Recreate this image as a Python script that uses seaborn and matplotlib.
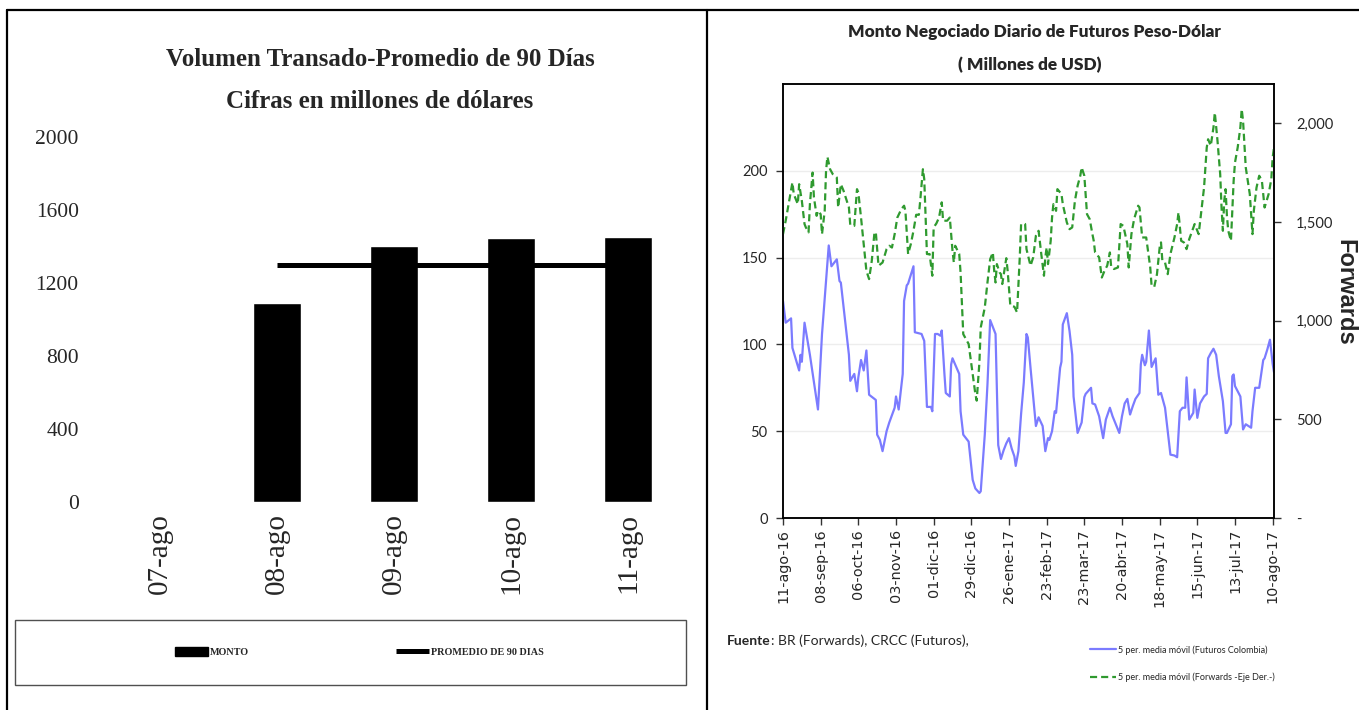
import numpy as np
import pandas as pd
import matplotlib
matplotlib.use("Agg")
import matplotlib.pyplot as plt
from matplotlib.lines import Line2D
from matplotlib.patches import Rectangle, Patch
from matplotlib import font_manager
import seaborn as sns

# ---------------- Left panel data ----------------
left_days = ["07-ago", "08-ago", "09-ago", "10-ago", "11-ago"]
monto = [0, 1090, 1403, 1447, 1452]
promedio_90 = [np.nan, 1298, 1298, 1298, 1298]
left_yticks = [0, 400, 800, 1200, 1600, 2000]

# ---------------- Right panel data ----------------
fut_dates = [
    "2016-08-11", "2016-08-13", "2016-08-17", "2016-08-18", "2016-08-23", "2016-08-24", "2016-08-25",
    "2016-08-27", "2016-08-31", "2016-09-06", "2016-09-09", "2016-09-12", "2016-09-14", "2016-09-16",
    "2016-09-20", "2016-09-22", "2016-09-23", "2016-09-29", "2016-09-30", "2016-10-03", "2016-10-05",
    "2016-10-06", "2016-10-08", "2016-10-10", "2016-10-12", "2016-10-14", "2016-10-19", "2016-10-20",
    "2016-10-22", "2016-10-24", "2016-10-27", "2016-10-29", "2016-11-02", "2016-11-03", "2016-11-05",
    "2016-11-08", "2016-11-09", "2016-11-11", "2016-11-12", "2016-11-16", "2016-11-17", "2016-11-22",
    "2016-11-24", "2016-11-26", "2016-11-29", "2016-11-30", "2016-12-02", "2016-12-04", "2016-12-06",
    "2016-12-07", "2016-12-09", "2016-12-10", "2016-12-13", "2016-12-14", "2016-12-15", "2016-12-20",
    "2016-12-21", "2016-12-23", "2016-12-27", "2016-12-30", "2017-01-01", "2017-01-04", "2017-01-05",
    "2017-01-06", "2017-01-08", "2017-01-10", "2017-01-12", "2017-01-14", "2017-01-16", "2017-01-18",
    "2017-01-20", "2017-01-22", "2017-01-24", "2017-01-26", "2017-01-28", "2017-01-30", "2017-01-31",
    "2017-02-02", "2017-02-04", "2017-02-06", "2017-02-08", "2017-02-09", "2017-02-11", "2017-02-13",
    "2017-02-15", "2017-02-17", "2017-02-20", "2017-02-22", "2017-02-24", "2017-02-25", "2017-02-27",
    "2017-03-01", "2017-03-02", "2017-03-05", "2017-03-06", "2017-03-07", "2017-03-10", "2017-03-12",
    "2017-03-14", "2017-03-15", "2017-03-18", "2017-03-21", "2017-03-23", "2017-03-24", "2017-03-28",
    "2017-03-29", "2017-03-31", "2017-04-03", "2017-04-06", "2017-04-08", "2017-04-11", "2017-04-13",
    "2017-04-18", "2017-04-20", "2017-04-22", "2017-04-24", "2017-04-26", "2017-04-28", "2017-04-30",
    "2017-05-03", "2017-05-04", "2017-05-05", "2017-05-07", "2017-05-08", "2017-05-10", "2017-05-12",
    "2017-05-15", "2017-05-17", "2017-05-19", "2017-05-22", "2017-05-24", "2017-05-26", "2017-05-29",
    "2017-05-31", "2017-06-02", "2017-06-04", "2017-06-06", "2017-06-07", "2017-06-09", "2017-06-12",
    "2017-06-13", "2017-06-15", "2017-06-17", "2017-06-20", "2017-06-22", "2017-06-23", "2017-06-25",
    "2017-06-27", "2017-06-29", "2017-07-01", "2017-07-04", "2017-07-06", "2017-07-07", "2017-07-10",
    "2017-07-11", "2017-07-12", "2017-07-13", "2017-07-17", "2017-07-19", "2017-07-21", "2017-07-23",
    "2017-07-25", "2017-07-26", "2017-07-28", "2017-07-31", "2017-08-03", "2017-08-04", "2017-08-06",
    "2017-08-08", "2017-08-10", "2017-08-11",
]
fut_vals = [
    125, 112.5, 115, 98, 85, 94, 90,
    112.5, 94, 62.5, 106, 136.5, 157, 145,
    149, 136.5, 135.6, 94, 79, 83, 73,
    81, 91, 85, 96.5, 71, 68, 48,
    45, 38.5, 50, 55, 63.5, 70, 62.5,
    83, 125, 134, 135, 145, 107, 106,
    102, 64, 64, 61.5, 106, 106, 105,
    108, 83, 72, 70, 88.5, 92, 83,
    61.5, 48, 44, 22, 17, 14.4, 15.4,
    26, 48, 77, 114, 110, 106, 42,
    34, 39, 43, 46, 40, 35.5, 30,
    38.5, 60, 78, 106, 104, 86.5, 70,
    53, 58, 53, 38.5, 46, 45, 50,
    61.5, 60.6, 86.5, 90, 111.5, 118, 107.7,
    94, 70, 49, 55, 69.6, 71.5, 75,
    66, 65.4, 58.6, 46, 56.7, 63.5, 58.6,
    49, 58.6, 66, 68.6, 59.6, 64.4, 68.6,
    72, 88.5, 94, 88, 90, 108, 87,
    92, 71, 72, 63.5, 50, 36.5, 36,
    35, 61.5, 63.5, 63.5, 81, 56.7, 60.6,
    74, 57.7, 66, 70, 71.5, 92, 95,
    97.5, 94, 81.7, 67.3, 49, 49, 54,
    81.7, 82.7, 76, 70, 51, 54, 53,
    52, 61.5, 75, 75, 91, 92, 97,
    102.7, 88.8, 84,
]

fwd_dates = [
    "2016-08-11", "2016-08-13", "2016-08-16", "2016-08-18", "2016-08-19", "2016-08-21", "2016-08-22",
    "2016-08-23", "2016-08-25", "2016-08-27", "2016-08-28", "2016-08-30", "2016-08-31", "2016-09-02",
    "2016-09-03", "2016-09-05", "2016-09-06", "2016-09-08", "2016-09-09", "2016-09-11", "2016-09-12",
    "2016-09-13", "2016-09-15", "2016-09-17", "2016-09-20", "2016-09-21", "2016-09-23", "2016-09-25",
    "2016-09-27", "2016-09-29", "2016-09-30", "2016-10-03", "2016-10-05", "2016-10-06", "2016-10-08",
    "2016-10-10", "2016-10-12", "2016-10-14", "2016-10-16", "2016-10-18", "2016-10-19", "2016-10-21",
    "2016-10-24", "2016-10-27", "2016-10-29", "2016-10-31", "2016-11-02", "2016-11-04", "2016-11-07",
    "2016-11-09", "2016-11-10", "2016-11-12", "2016-11-14", "2016-11-16", "2016-11-18", "2016-11-20",
    "2016-11-21", "2016-11-23", "2016-11-24", "2016-11-26", "2016-11-28", "2016-11-30", "2016-12-01",
    "2016-12-03", "2016-12-05", "2016-12-07", "2016-12-08", "2016-12-11", "2016-12-13", "2016-12-15",
    "2016-12-16", "2016-12-17", "2016-12-20", "2016-12-21", "2016-12-23", "2016-12-27", "2016-12-30",
    "2017-01-01", "2017-01-02", "2017-01-04", "2017-01-05", "2017-01-08", "2017-01-10", "2017-01-12",
    "2017-01-14", "2017-01-15", "2017-01-16", "2017-01-17", "2017-01-19", "2017-01-20", "2017-01-21",
    "2017-01-24", "2017-01-25", "2017-01-27", "2017-01-30", "2017-02-01", "2017-02-03", "2017-02-04",
    "2017-02-06", "2017-02-07", "2017-02-08", "2017-02-11", "2017-02-13", "2017-02-15", "2017-02-17",
    "2017-02-19", "2017-02-21", "2017-02-22", "2017-02-23", "2017-02-24", "2017-02-26", "2017-02-27",
    "2017-02-28", "2017-03-02", "2017-03-03", "2017-03-06", "2017-03-07", "2017-03-10", "2017-03-12",
    "2017-03-14", "2017-03-16", "2017-03-18", "2017-03-20", "2017-03-21", "2017-03-23", "2017-03-25",
    "2017-03-27", "2017-03-29", "2017-03-30", "2017-03-31", "2017-04-03", "2017-04-05", "2017-04-07",
    "2017-04-09", "2017-04-11", "2017-04-12", "2017-04-14", "2017-04-17", "2017-04-19", "2017-04-21",
    "2017-04-24", "2017-04-25", "2017-04-27", "2017-04-29", "2017-05-02", "2017-05-03", "2017-05-05",
    "2017-05-08", "2017-05-11", "2017-05-12", "2017-05-14", "2017-05-16", "2017-05-18", "2017-05-19",
    "2017-05-20", "2017-05-22", "2017-05-24", "2017-05-26", "2017-05-29", "2017-05-31", "2017-06-01",
    "2017-06-03", "2017-06-05", "2017-06-07", "2017-06-09", "2017-06-13", "2017-06-16", "2017-06-18",
    "2017-06-20", "2017-06-22", "2017-06-23", "2017-06-25", "2017-06-27", "2017-06-28", "2017-06-30",
    "2017-07-02", "2017-07-03", "2017-07-04", "2017-07-05", "2017-07-06", "2017-07-07", "2017-07-08",
    "2017-07-10", "2017-07-12", "2017-07-13", "2017-07-15", "2017-07-17", "2017-07-18", "2017-07-19",
    "2017-07-21", "2017-07-24", "2017-07-26", "2017-07-27", "2017-07-29", "2017-07-31", "2017-08-02",
    "2017-08-04", "2017-08-07", "2017-08-09", "2017-08-10", "2017-08-11",
]
fwd_vals = [
    1439, 1507, 1625, 1701, 1642, 1608, 1591,
    1692, 1608, 1490, 1473, 1448, 1591, 1751,
    1625, 1532, 1557, 1540, 1439, 1557, 1760,
    1831, 1768, 1743, 1726, 1574, 1692, 1659,
    1616, 1574, 1486, 1481, 1667, 1650, 1523,
    1388, 1253, 1211, 1304, 1448, 1448, 1279,
    1295, 1363, 1380, 1371, 1439, 1523, 1566,
    1583, 1557, 1338, 1388, 1456, 1537, 1537,
    1608, 1768, 1718, 1338, 1338, 1228, 1473,
    1493, 1523, 1600, 1507, 1507, 1523, 1355,
    1295, 1380, 1338, 1245, 932, 882, 730,
    628, 595, 789, 966, 1067, 1194, 1312,
    1346, 1253, 1194, 1287, 1245, 1236, 1186,
    1317, 1253, 1076, 1071, 1042, 1321, 1490,
    1493, 1490, 1363, 1279, 1321, 1431, 1456,
    1338, 1228, 1321, 1371, 1287, 1405, 1523,
    1591, 1557, 1667, 1642, 1591, 1498, 1464,
    1473, 1608, 1684, 1735, 1777, 1735, 1540,
    1515, 1439, 1405, 1346, 1321, 1219, 1253,
    1279, 1346, 1270, 1262, 1270, 1490, 1481,
    1388, 1270, 1439, 1515, 1583, 1574, 1422,
    1422, 1270, 1177, 1172, 1236, 1371, 1397,
    1304, 1295, 1236, 1338, 1422, 1490, 1549,
    1405, 1397, 1363, 1414, 1490, 1439, 1557,
    1675, 1878, 1920, 1887, 1980, 2055, 1912,
    1743, 1574, 1456, 1608, 1667, 1532, 1456,
    1405, 1709, 1802, 1878, 1980, 2072, 2013,
    1777, 1642, 1439, 1557, 1675, 1735, 1709,
    1574, 1642, 1718, 1827, 1878,
]

xtick_dates = ["2016-08-11", "2016-09-08", "2016-10-06", "2016-11-03", "2016-12-01", "2016-12-29",
               "2017-01-26", "2017-02-23", "2017-03-23", "2017-04-20", "2017-05-18", "2017-06-15",
               "2017-07-13", "2017-08-10"]
xtick_labels = ["11-ago-16", "08-sep-16", "06-oct-16", "03-nov-16", "01-dic-16", "29-dic-16",
                "26-ene-17", "23-feb-17", "23-mar-17", "20-abr-17", "18-may-17", "15-jun-17",
                "13-jul-17", "10-ago-17"]
left_ticks_r = [0, 50, 100, 150, 200]
right_ticks = [0, 500, 1000, 1500, 2000]
right_ticklabels = ["-", "500", "1,000", "1,500", "2,000"]

# ---------------- fonts ----------------
avail = {f.name for f in font_manager.fontManager.ttflist}


def pick(*names):
    for n in names:
        if n in avail:
            return n
    return "DejaVu Sans"


SERIF = pick("Liberation Serif", "DejaVu Serif")
CAL = pick("Lato", "Liberation Sans")
ARIAL = pick("Liberation Sans", "DejaVu Sans")
VERD = "DejaVu Sans"

sns.set_style("white")
plt.rcParams["font.family"] = [CAL, "DejaVu Sans"]

W, H = 1359, 710
fig = plt.figure(figsize=(W / 100, H / 100), dpi=100)


def fx(px):
    return px / W


def fy(py):
    return 1 - py / H


# ---------------- outer frame ----------------
for (x0, y0, x1, y1) in [(7, 10, 1359, 10), (7, 10, 7, 710), (707, 10, 707, 710)]:
    fig.add_artist(Line2D([fx(x0), fx(x1)], [fy(y0), fy(y1)], transform=fig.transFigure,
                          color="black", lw=1.6))

# ---------------- Left panel ----------------
ax1 = fig.add_axes([fx(101), fy(502), fx(687) - fx(101), (502 - 137) / H])
sns.barplot(x=left_days, y=monto, color="black", saturation=1, width=0.41, ax=ax1)
sns.lineplot(x=np.arange(len(left_days)), y=promedio_90, color="black", lw=3.6,
             solid_capstyle="butt", ax=ax1)
ax1.set_xlim(-0.5, len(left_days) - 0.5)
ax1.set_ylim(0, 2000)
ax1.set_yticks(left_yticks)
ax1.set_yticklabels([str(v) for v in left_yticks], fontfamily=SERIF, fontsize=15.5)
ax1.set_xticks(range(len(left_days)))
ax1.set_xticklabels(left_days, rotation=90, fontfamily=SERIF, fontsize=21)
ax1.tick_params(axis="y", length=0, pad=16)
ax1.tick_params(axis="x", length=0, pad=8)
for s in ax1.spines.values():
    s.set_visible(False)
ax1.set_xlabel("")
ax1.set_ylabel("")

fig.text(fx(380), fy(60), "Volumen Transado-Promedio de 90 Días", ha="center", va="center",
         fontfamily=SERIF, fontweight="bold", fontsize=18)
fig.text(fx(380), fy(101), "Cifras en millones de dólares", ha="center", va="center",
         fontfamily=SERIF, fontweight="bold", fontsize=18)

fig.add_artist(Rectangle((fx(15), fy(685)), fx(686) - fx(15), (685 - 620) / H,
                         transform=fig.transFigure, fill=False, ec="#505050", lw=1))
fig.legend(handles=[Patch(fc="black", ec="black"),
                    Line2D([], [], color="black", lw=3.6, solid_capstyle="butt")],
           labels=["MONTO", "PROMEDIO DE 90 DIAS"], loc="center",
           bbox_to_anchor=(fx(359), fy(652)), ncol=2, frameon=False,
           prop=dict(family=SERIF, weight="bold", size=7.3),
           handlelength=3.3, handleheight=0.9, handletextpad=0.15, columnspacing=14.5)

# ---------------- Right panel ----------------
ax = fig.add_axes([fx(783), fy(518), (1274 - 783) / W, (518 - 84) / H])
sns.lineplot(x=pd.to_datetime(fut_dates), y=fut_vals, ax=ax, color="#7b7bff", lw=1.6)
ax2 = ax.twinx()
sns.lineplot(x=pd.to_datetime(fwd_dates), y=fwd_vals, ax=ax2, color="#2f9a2f", lw=1.6,
             linestyle=(0, (3.2, 1.8)))

ax.set_xlim(pd.Timestamp("2016-08-11"), pd.Timestamp("2017-08-11"))
ax.set_ylim(0, 250)
ax2.set_ylim(0, 2200)
ax.set_yticks(left_ticks_r)
ax.set_yticklabels([str(v) for v in left_ticks_r], fontfamily=CAL, fontsize=10.5)
ax2.set_yticks(right_ticks)
ax2.set_yticklabels(right_ticklabels, fontfamily=CAL, fontsize=10.5)
ax.set_xticks(pd.to_datetime(xtick_dates))
ax.set_xticklabels(xtick_labels, rotation=90, fontfamily=VERD, fontsize=10.4)
ax.yaxis.grid(True, color="#ededed", lw=1)
ax.xaxis.grid(False)
ax.set_axisbelow(True)
ax.tick_params(axis="y", direction="out", length=5, width=1, pad=6, left=True, color="#333333")
ax.tick_params(axis="x", direction="out", length=5, width=1, pad=3, bottom=True, color="#333333")
ax2.tick_params(axis="y", direction="out", length=5, width=1, pad=11, right=True, color="#333333")
for a in (ax, ax2):
    for s in a.spines.values():
        s.set_visible(True)
        s.set_color("black")
        s.set_linewidth(1.1)
    a.set_xlabel("")
    a.set_ylabel("")

fig.text(fx(1345), fy(292), "Forwards", rotation=270, ha="center", va="center",
         fontfamily=ARIAL, fontweight="bold", fontsize=17)
fig.text(fx(1034), fy(32), "Monto Negociado Diario de Futuros Peso-Dólar", ha="center", va="center",
         fontfamily=CAL, fontweight="heavy", fontsize=12.4)
fig.text(fx(1030), fy(65), "( Millones de USD)", ha="center", va="center",
         fontfamily=CAL, fontweight="heavy", fontsize=12.4)

t_f = fig.text(fx(727), fy(641), "Fuente", ha="left", va="center",
               fontfamily=CAL, fontweight="bold", fontsize=10)
ax.annotate(": BR (Forwards), CRCC (Futuros),", xy=(1, 0.5), xycoords=t_f, ha="left",
            va="center", fontfamily=CAL, fontsize=10, annotation_clip=False)

fig.legend(handles=[Line2D([], [], color="#7b7bff", lw=1.6),
                    Line2D([], [], color="#2f9a2f", lw=1.6, linestyle=(0, (3.2, 1.8)))],
           labels=["5 per. media móvil (Futuros Colombia)", "5 per. media móvil (Forwards -Eje Der.-)"],
           loc="upper left", bbox_to_anchor=(fx(1090), fy(645)), frameon=False,
           prop=dict(family=CAL, size=6.5), handlelength=2.9, handletextpad=0.2,
           labelspacing=2.0, borderaxespad=0, borderpad=0)

fig.savefig("out.png", dpi=100)
